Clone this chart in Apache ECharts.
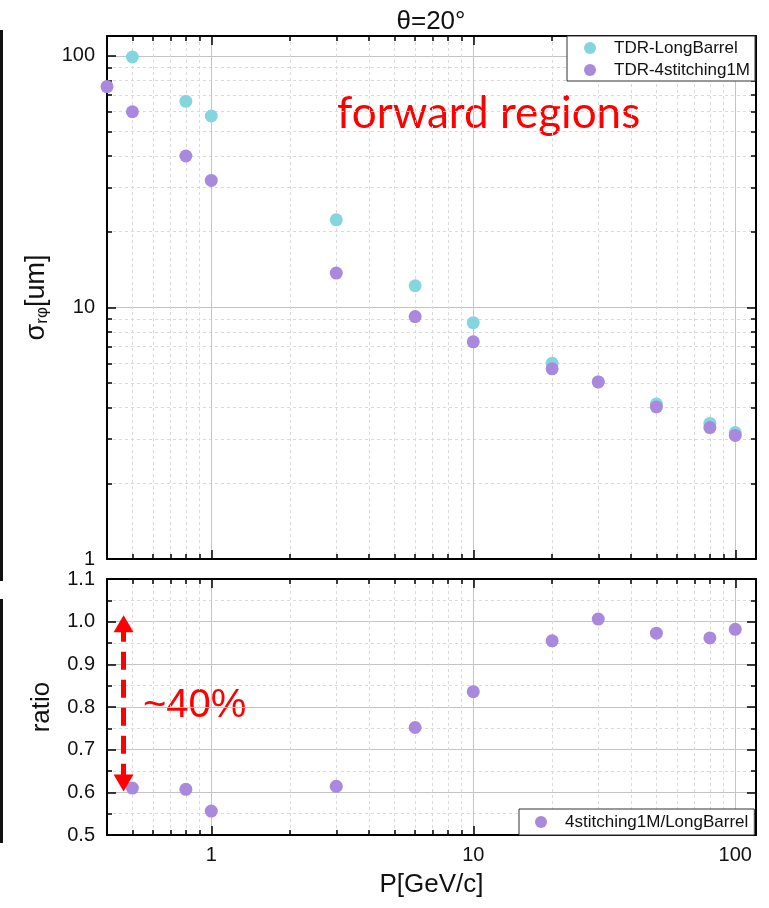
<!DOCTYPE html>
<html>
<head>
<meta charset="utf-8">
<script src="https://cdn.jsdelivr.net/npm/echarts@6/dist/echarts.min.js"></script>
<style>
  html, body { margin: 0; padding: 0; background: #fff; }
  #chart { width: 769px; height: 908px; }
</style>
</head>
<body>
<div id="chart"></div>
<script>
// momentum points (GeV/c)
const momentum = [0.4, 0.5, 0.8, 1, 3, 6, 10, 20, 30, 50, 80, 100];
// sigma_rphi [um]
const longBarrel = [null, 99, 66, 57.7, 22.3, 12.2, 8.7, 6.0, 5.06, 4.13, 3.46, 3.18];
const stitching = [75.5, 60, 40, 32, 13.7, 9.2, 7.3, 5.7, 5.06, 4.02, 3.33, 3.10];
// 4stitching1M / LongBarrel
const ratio = [null, 0.61, 0.607, 0.556, 0.614, 0.752, 0.836, 0.955, 1.006, 0.973, 0.962, 0.982];

const xMajor = [1, 10, 100];
const xMinor = [0.5, 0.6, 0.7, 0.8, 0.9, 2, 3, 4, 5, 6, 7, 8, 9, 20, 30, 40, 50, 60, 70, 80, 90];
const yMajor = [1, 10, 100];
const yMinor = [2, 3, 4, 5, 6, 7, 8, 9, 20, 30, 40, 50, 60, 70, 80, 90];

const cyan = '#84d5de';
const purple = '#a889dd';
const font = 'Liberation Sans, Arial, sans-serif';

const pairs = vals => momentum.map((m, i) => [m, vals[i]]).filter(p => p[1] != null);

const chart = echarts.init(document.getElementById('chart'));

// one log x axis (major or minor ticks, bottom or top side)
function logX(grid, pos, values, minor, extra) {
    return Object.assign({
        type: 'log', gridIndex: grid, position: pos, min: 0.4, max: 120, logBase: 10,
        axisLine: {show: !minor, onZero: false, lineStyle: {color: '#000', width: 2}},
        axisTick: {show: true, inside: true, length: minor ? 5 : 9, customValues: values,
            lineStyle: {color: '#000', width: 1.5}},
        axisLabel: {show: false},
        splitLine: {show: false},
        minorTick: {show: false}
    }, extra || {});
}

function logY(pos, values, minor, extra) {
    return Object.assign({
        type: 'log', gridIndex: 0, position: pos, min: 1, max: 120, logBase: 10,
        axisLine: {show: !minor, onZero: false, lineStyle: {color: '#000', width: 2}},
        axisTick: {show: true, inside: true, length: minor ? 5 : 9, customValues: values,
            lineStyle: {color: '#000', width: 1.5}},
        axisLabel: {show: false},
        splitLine: {show: false}
    }, extra || {});
}

const solidGrid = {show: true, lineStyle: {color: '#c4c4c4', width: 1}};
const dashGrid = {show: true, lineStyle: {color: '#dadada', width: 1, type: [3, 3]}};

const option = {
    animation: false,
    backgroundColor: '#fff',
    title: {
        text: 'θ=20°', left: 426, top: 4, textAlign: 'center',
        textStyle: {fontFamily: font, fontSize: 26, fontWeight: 'normal', color: '#111'}
    },
    grid: [
        {left: 107, top: 36, width: 649, height: 523},
        {left: 107, top: 579, width: 649, height: 256}
    ],
    legend: [
        {
            data: ['TDR-LongBarrel', 'TDR-4stitching1M'],
            orient: 'vertical', left: 567, top: 36,
            padding: [3, 5, 2, 17], itemGap: 4, itemWidth: 38, itemHeight: 12,
            backgroundColor: '#fff', borderColor: '#333', borderWidth: 1, borderRadius: 0,
            icon: 'circle',
            textStyle: {fontFamily: font, fontSize: 17, color: '#111', lineHeight: 18, padding: 0}
        },
        {
            data: ['4stitching1M/LongBarrel'],
            left: 519, top: 809,
            padding: [4, 6, 4, 16], itemWidth: 38, itemHeight: 12,
            backgroundColor: '#fff', borderColor: '#333', borderWidth: 1, borderRadius: 0,
            icon: 'circle',
            textStyle: {fontFamily: font, fontSize: 17, color: '#111', lineHeight: 18, padding: 0}
        }
    ],
    xAxis: [
        logX(0, 'bottom', xMajor, false, {splitLine: solidGrid}),
        logX(0, 'bottom', xMinor, true, {splitLine: dashGrid}),
        logX(0, 'top', xMajor, false),
        logX(0, 'top', xMinor, true),
        logX(1, 'bottom', xMajor, false, {
            splitLine: solidGrid,
            axisLabel: {show: true, customValues: xMajor, margin: 10,
                fontFamily: font, fontSize: 20, color: '#111'},
            name: 'P[GeV/c]', nameLocation: 'middle', nameGap: 37,
            nameTextStyle: {fontFamily: font, fontSize: 26, color: '#111'}
        }),
        logX(1, 'bottom', xMinor, true, {splitLine: dashGrid}),
        logX(1, 'top', xMajor, false),
        logX(1, 'top', xMinor, true)
    ],
    yAxis: [
        logY('left', yMajor, false, {
            splitLine: solidGrid,
            axisLabel: {show: true, customValues: yMajor, margin: 12,
                fontFamily: font, fontSize: 20, color: '#111'},
            name: '{s|σ}{sub|rφ}{s|[um]}', nameLocation: 'middle', nameGap: 50,
            nameTextStyle: {
                rich: {
                    s: {fontFamily: font, fontSize: 27, color: '#111'},
                    sub: {fontFamily: font, fontSize: 17, color: '#111', verticalAlign: 'bottom', padding: [12, 0, 0, 0]}
                }
            }
        }),
        logY('left', yMinor, true, {splitLine: dashGrid}),
        logY('right', yMajor, false),
        logY('right', yMinor, true),
        {
            type: 'value', gridIndex: 1, position: 'left', min: 0.5, max: 1.1, interval: 0.1,
            axisLine: {show: true, onZero: false, lineStyle: {color: '#000', width: 2}},
            axisTick: {show: true, inside: true, length: 9, lineStyle: {color: '#000', width: 1.5}},
            minorTick: {show: true, splitNumber: 2, length: 5, lineStyle: {color: '#000', width: 1.5}},
            axisLabel: {margin: 12, fontFamily: font, fontSize: 20, color: '#111',
                formatter: v => v.toFixed(1)},
            splitLine: solidGrid,
            minorSplitLine: dashGrid,
            name: 'ratio', nameLocation: 'middle', nameGap: 52,
            nameTextStyle: {fontFamily: font, fontSize: 26, color: '#111'}
        },
        {
            type: 'value', gridIndex: 1, position: 'right', min: 0.5, max: 1.1, interval: 0.1,
            axisLine: {show: true, onZero: false, lineStyle: {color: '#000', width: 2}},
            axisTick: {show: true, inside: true, length: 9, lineStyle: {color: '#000', width: 1.5}},
            minorTick: {show: true, splitNumber: 2, length: 5, lineStyle: {color: '#000', width: 1.5}},
            axisLabel: {show: false},
            splitLine: {show: false}
        }
    ],
    series: [
        {
            name: 'TDR-LongBarrel', type: 'scatter', xAxisIndex: 0, yAxisIndex: 0,
            symbolSize: 13, itemStyle: {color: cyan, opacity: 1},
            data: pairs(longBarrel), clip: false
        },
        {
            name: 'TDR-4stitching1M', type: 'scatter', xAxisIndex: 0, yAxisIndex: 0,
            symbolSize: 13, itemStyle: {color: purple, opacity: 1},
            data: pairs(stitching), clip: false
        },
        {
            name: '4stitching1M/LongBarrel', type: 'scatter', xAxisIndex: 4, yAxisIndex: 4,
            symbolSize: 13, itemStyle: {color: purple, opacity: 1},
            data: pairs(ratio), clip: false,
            markLine: {
                silent: true, symbol: ['triangle', 'triangle'], symbolSize: [20, 17],
                symbolOffset: [0, 0],
                label: {show: false},
                lineStyle: {color: '#ff0000', width: 5, type: [18, 10]},
                data: [[{coord: [0.4627, 0.995]}, {coord: [0.4627, 0.622]}]]
            }
        }
    ],
    graphic: [
        {type: 'rect', left: 0, top: 30, shape: {width: 3, height: 551}, style: {fill: '#111'}},
        {type: 'rect', left: 0, top: 599, shape: {width: 3, height: 244}, style: {fill: '#111'}},
        {type: 'text', left: 337, top: 92,
            style: {text: 'forward regions', fill: '#ff0000', font: '44px Lato, sans-serif'}},
        {type: 'text', left: 143, top: 686,
            style: {text: '~40%', fill: '#ff0000', font: '40px "Liberation Sans", Arial, sans-serif'}}
    ]
};

chart.setOption(option);
</script>
</body>
</html>
